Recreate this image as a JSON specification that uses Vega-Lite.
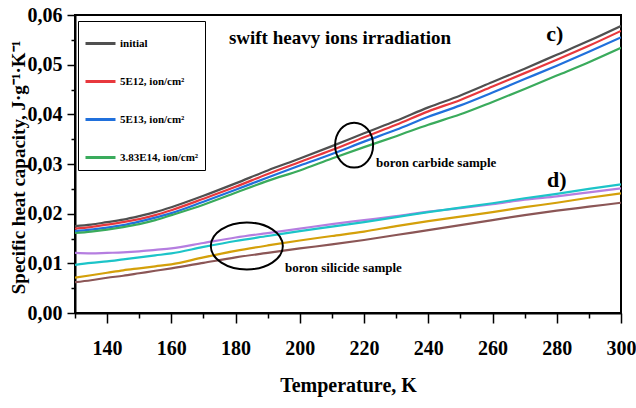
{
  "$schema": "https://vega.github.io/schema/vega-lite/v6.json",
  "width": 546,
  "height": 298,
  "autosize": {"type": "none"},
  "padding": {"left": 75, "top": 15, "right": 15, "bottom": 95},
  "background": "white",
  "config": {
    "view": {"stroke": "black", "strokeWidth": 2},
    "font": "Liberation Serif",
    "axis": {
      "domainColor": "black", "domainWidth": 2, "tickColor": "black", "tickWidth": 1.5,
      "labelFont": "Liberation Serif", "labelFontWeight": "bold", "labelColor": "black",
      "titleFont": "Liberation Serif", "titleFontWeight": "bold", "titleColor": "black", "grid": false
    }
  },
  "resolve": {"axis": {"x": "independent", "y": "independent"}},
  "datasets": {
    "curves": [
      {"T": 130, "initial": 0.0175, "e12": 0.0170, "e13": 0.0165, "e14": 0.0161, "p": 0.0121, "cy": 0.0097, "g": 0.0071, "b": 0.0062},
      {"T": 135, "initial": 0.0178, "e12": 0.0173, "e13": 0.0168, "e14": 0.0164, "p": 0.0120, "cy": 0.0101, "g": 0.0076, "b": 0.0066},
      {"T": 140, "initial": 0.0183, "e12": 0.0178, "e13": 0.0172, "e14": 0.0168, "p": 0.0121, "cy": 0.0104, "g": 0.0081, "b": 0.0071},
      {"T": 145, "initial": 0.0188, "e12": 0.0183, "e13": 0.0177, "e14": 0.0173, "p": 0.0122, "cy": 0.0108, "g": 0.0086, "b": 0.0075},
      {"T": 150, "initial": 0.0195, "e12": 0.0189, "e13": 0.0184, "e14": 0.0179, "p": 0.0124, "cy": 0.0112, "g": 0.0090, "b": 0.0080},
      {"T": 155, "initial": 0.0203, "e12": 0.0197, "e13": 0.0192, "e14": 0.0187, "p": 0.0127, "cy": 0.0116, "g": 0.0094, "b": 0.0085},
      {"T": 160, "initial": 0.0213, "e12": 0.0207, "e13": 0.0201, "e14": 0.0197, "p": 0.0130, "cy": 0.0120, "g": 0.0098, "b": 0.0090},
      {"T": 170, "initial": 0.0236, "e12": 0.0230, "e13": 0.0224, "e14": 0.0218, "p": 0.0141, "cy": 0.0133, "g": 0.0112, "b": 0.0101},
      {"T": 180, "initial": 0.0261, "e12": 0.0254, "e13": 0.0248, "e14": 0.0242, "p": 0.0152, "cy": 0.0145, "g": 0.0125, "b": 0.0112},
      {"T": 190, "initial": 0.0287, "e12": 0.0280, "e13": 0.0273, "e14": 0.0266, "p": 0.0161, "cy": 0.0155, "g": 0.0136, "b": 0.0121},
      {"T": 200, "initial": 0.0311, "e12": 0.0304, "e13": 0.0297, "e14": 0.0287, "p": 0.0170, "cy": 0.0165, "g": 0.0146, "b": 0.0130},
      {"T": 210, "initial": 0.0336, "e12": 0.0328, "e13": 0.0320, "e14": 0.0311, "p": 0.0179, "cy": 0.0174, "g": 0.0155, "b": 0.0138},
      {"T": 220, "initial": 0.0362, "e12": 0.0354, "e13": 0.0345, "e14": 0.0334, "p": 0.0187, "cy": 0.0183, "g": 0.0164, "b": 0.0147},
      {"T": 230, "initial": 0.0387, "e12": 0.0379, "e13": 0.0369, "e14": 0.0356, "p": 0.0195, "cy": 0.0193, "g": 0.0175, "b": 0.0157},
      {"T": 240, "initial": 0.0414, "e12": 0.0406, "e13": 0.0395, "e14": 0.0379, "p": 0.0204, "cy": 0.0203, "g": 0.0185, "b": 0.0167},
      {"T": 250, "initial": 0.0438, "e12": 0.0429, "e13": 0.0418, "e14": 0.0400, "p": 0.0211, "cy": 0.0212, "g": 0.0194, "b": 0.0177},
      {"T": 260, "initial": 0.0465, "e12": 0.0456, "e13": 0.0444, "e14": 0.0425, "p": 0.0219, "cy": 0.0221, "g": 0.0203, "b": 0.0187},
      {"T": 270, "initial": 0.0492, "e12": 0.0483, "e13": 0.0471, "e14": 0.0451, "p": 0.0228, "cy": 0.0231, "g": 0.0213, "b": 0.0197},
      {"T": 280, "initial": 0.0520, "e12": 0.0510, "e13": 0.0498, "e14": 0.0478, "p": 0.0235, "cy": 0.0240, "g": 0.0222, "b": 0.0206},
      {"T": 290, "initial": 0.0548, "e12": 0.0538, "e13": 0.0526, "e14": 0.0505, "p": 0.0243, "cy": 0.0250, "g": 0.0232, "b": 0.0214},
      {"T": 300, "initial": 0.0578, "e12": 0.0568, "e13": 0.0555, "e14": 0.0534, "p": 0.0251, "cy": 0.0259, "g": 0.0241, "b": 0.0222}
    ],
    "notes": [
      {"T": 212.5, "Cp": 0.0554, "text": "swift heavy ions irradiation", "kind": "title"},
      {"T": 279.4, "Cp": 0.0561, "text": "c)", "kind": "panel"},
      {"T": 280.0, "Cp": 0.0268, "text": "d)", "kind": "panel"},
      {"T": 223.7, "Cp": 0.0302, "text": "boron carbide sample", "kind": "label"},
      {"T": 195.4, "Cp": 0.0091, "text": "boron silicide sample", "kind": "label"}
    ],
    "ellipseA": [{"T": 216.9, "Cp": 0.0338}],
    "ellipseB": [{"T": 183.5, "Cp": 0.0135}]
  },
  "layer": [
    {
      "data": {"name": "curves"},
      "transform": [{"fold": ["initial", "e12", "e13", "e14", "p", "cy", "g", "b"], "as": ["series", "Cp"]}],
      "mark": {"type": "line", "strokeWidth": 2.2, "clip": true, "interpolate": "monotone"},
      "encoding": {
        "x": {
          "field": "T", "type": "quantitative",
          "scale": {"domain": [130, 300], "nice": false, "zero": false},
          "axis": {
            "orient": "bottom",
            "values": [140, 160, 180, 200, 220, 240, 260, 280, 300],
            "labelOverlap": false, "tickSize": 10,
            "labelFontSize": 20, "labelPadding": 25, "labelBaseline": "middle",
            "title": "Temperature, K", "titleFontSize": 20,
            "titleY": 72, "titleBaseline": "middle",
            "labelFlush": false
          }
        },
        "y": {
          "field": "Cp", "type": "quantitative",
          "scale": {"domain": [0, 0.06], "nice": false},
          "axis": {
            "orient": "left",
            "values": [0, 0.01, 0.02, 0.03, 0.04, 0.05, 0.06],
            "labelExpr": "replace(format(datum.value, '.2f'), '.', ',')",
            "labelOverlap": false, "tickSize": 8,
            "labelFontSize": 20, "labelPadding": 5, "labelFlush": false,
            "title": "Specific heat capacity, J·g⁻¹·K⁻¹", "titleFontSize": 19,
            "titleX": -57, "titleY": 152, "titleAngle": -90, "titleAlign": "center", "titleBaseline": "middle"
          }
        },
        "color": {
          "field": "series", "type": "nominal",
          "scale": {
            "domain": ["initial", "e12", "e13", "e14", "p", "cy", "g", "b"],
            "range": ["#505050", "#e8383d", "#2070dc", "#3aab5c", "#b57ee0", "#1cc4c8", "#d4a00a", "#8b5656"]
          },
          "legend": {
            "values": ["initial", "e12", "e13", "e14"],
            "title": null,
            "orient": "none", "legendX": 3, "legendY": 6,
            "labelExpr": "datum.label == 'initial' ? 'initial' : datum.label == 'e12' ? '5E12, ion/cm²' : datum.label == 'e13' ? '5E13,  ion/cm²' : '3.83E14, ion/cm²'",
            "symbolType": "stroke", "symbolSize": 900, "symbolStrokeWidth": 3,
            "labelFont": "Liberation Serif", "labelFontWeight": "bold", "labelFontSize": 11, "labelColor": "black",
            "labelOffset": 3, "rowPadding": 15, "padding": 6,
            "strokeColor": "black", "fillColor": "white"
          }
        }
      }
    },
    {
      "data": {"name": "notes"},
      "transform": [{"filter": "datum.kind == 'title'"}],
      "mark": {"type": "text", "fontSize": 19, "fontWeight": "bold", "font": "Liberation Serif", "align": "center", "baseline": "middle", "color": "black"},
      "encoding": {"x": {"field": "T", "type": "quantitative", "axis": null}, "y": {"field": "Cp", "type": "quantitative", "axis": null}, "text": {"field": "text"}}
    },
    {
      "data": {"name": "notes"},
      "transform": [{"filter": "datum.kind == 'panel'"}],
      "mark": {"type": "text", "fontSize": 22, "fontWeight": "bold", "font": "Liberation Serif", "align": "center", "baseline": "middle", "color": "black"},
      "encoding": {"x": {"field": "T", "type": "quantitative", "axis": null}, "y": {"field": "Cp", "type": "quantitative", "axis": null}, "text": {"field": "text"}}
    },
    {
      "data": {"name": "notes"},
      "transform": [{"filter": "datum.kind == 'label'"}],
      "mark": {"type": "text", "fontSize": 13, "fontWeight": "bold", "font": "Liberation Serif", "align": "left", "baseline": "middle", "color": "black"},
      "encoding": {"x": {"field": "T", "type": "quantitative", "axis": null}, "y": {"field": "Cp", "type": "quantitative", "axis": null}, "text": {"field": "text"}}
    },
    {
      "data": {"name": "ellipseA"},
      "mark": {"type": "point", "shape": "M-1,0A1,1.184,0,1,1,1,0A1,1.184,0,1,1,-1,0Z", "size": 1444, "filled": false, "stroke": "black", "strokeWidth": 2, "opacity": 1},
      "encoding": {
        "x": {"field": "T", "type": "quantitative",
          "axis": {"orient": "bottom", "values": [130, 150, 170, 190, 210, 230, 250, 270, 290], "tickSize": 5, "labels": false, "domain": false, "title": null}},
        "y": {"field": "Cp", "type": "quantitative",
          "axis": {"orient": "left", "values": [0.005, 0.015, 0.025, 0.035, 0.045, 0.055], "tickSize": 4, "labels": false, "domain": false, "title": null}}
      }
    },
    {
      "data": {"name": "ellipseB"},
      "mark": {"type": "point", "shape": "M-1,0A1,0.653,0,1,1,1,0A1,0.653,0,1,1,-1,0Z", "size": 5184, "filled": false, "stroke": "black", "strokeWidth": 2, "opacity": 1},
      "encoding": {"x": {"field": "T", "type": "quantitative", "axis": null}, "y": {"field": "Cp", "type": "quantitative", "axis": null}}
    }
  ]
}
